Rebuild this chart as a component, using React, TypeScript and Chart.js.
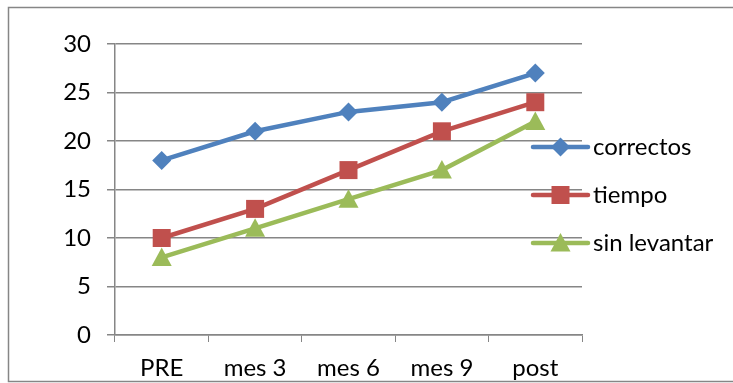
import { useEffect, useRef } from "react";
import { Chart, registerables } from "chart.js";

Chart.register(...registerables);

const categories = ["PRE", "mes 3", "mes 6", "mes 9", "post"];
const correctos = [18, 21, 23, 24, 27];
const tiempo = [10, 13, 17, 21, 24];
const sinLevantar = [8, 11, 14, 17, 22];
const yMin = 0;
const yMax = 30;
const yStep = 5;

const FONT = "Lato, 'Open Sans', sans-serif";
const FONT_SIZE = 24;
const AXIS_GRAY = "#868686";

type Marker = "diamond" | "square" | "triangle";

const seriesStyle: { color: string; marker: Marker; radius: number }[] = [
  { color: "#4F81BD", marker: "diamond", radius: 9.5 },
  { color: "#C0504D", marker: "square", radius: 9 },
  { color: "#9BBB59", marker: "triangle", radius: 10 },
];

function drawMarker(ctx: CanvasRenderingContext2D, kind: Marker, x: number, y: number, r: number, color: string) {
  ctx.save();
  ctx.fillStyle = color;
  ctx.beginPath();
  if (kind === "diamond") {
    ctx.moveTo(x, y - r);
    ctx.lineTo(x + r, y);
    ctx.lineTo(x, y + r);
    ctx.lineTo(x - r, y);
  } else if (kind === "square") {
    ctx.rect(x - r, y - r, 2 * r, 2 * r);
  } else {
    ctx.moveTo(x, y - r);
    ctx.lineTo(x + r, y + r * 0.85);
    ctx.lineTo(x - r, y + r * 0.85);
  }
  ctx.closePath();
  ctx.fill();
  ctx.restore();
}

// Outer frame of the chart object
const framePlugin = {
  id: "frame",
  beforeDraw(chart: Chart) {
    const { ctx, width, height } = chart;
    ctx.save();
    ctx.fillStyle = "#ffffff";
    ctx.fillRect(0, 0, width, height);
    ctx.strokeStyle = AXIS_GRAY;
    ctx.lineWidth = 1.5;
    ctx.strokeRect(8.5, 7.5, width + 10, height - 9);
    ctx.restore();
  },
};

// Custom markers drawn on top of the lines
const markerPlugin = {
  id: "markers",
  afterDatasetsDraw(chart: Chart) {
    const { ctx } = chart;
    chart.data.datasets.forEach((_ds, i) => {
      const meta = chart.getDatasetMeta(i);
      const st = seriesStyle[i];
      meta.data.forEach((pt: any) => {
        drawMarker(ctx, st.marker, pt.x, pt.y, st.radius, st.color);
      });
    });
  },
};

// Legend on the right: line sample with marker, then the label
const sideLegendPlugin = {
  id: "sideLegend",
  afterDraw(chart: Chart) {
    const { ctx, chartArea } = chart;
    const lineStart = chartArea.right - 49;
    const lineEnd = chartArea.right + 6;
    const mid = (lineStart + lineEnd) / 2;
    ctx.save();
    chart.data.datasets.forEach((ds, i) => {
      const st = seriesStyle[i];
      const y = chartArea.top + 103 + i * 48;
      ctx.strokeStyle = st.color;
      ctx.lineWidth = 4.5;
      ctx.lineCap = "round";
      ctx.beginPath();
      ctx.moveTo(lineStart, y);
      ctx.lineTo(lineEnd, y);
      ctx.stroke();
      drawMarker(ctx, st.marker, mid, y, st.radius, st.color);
      ctx.fillStyle = "#000000";
      ctx.font = `${FONT_SIZE}px ${FONT}`;
      ctx.textBaseline = "middle";
      ctx.textAlign = "left";
      ctx.fillText(String(ds.label), lineEnd + 5, y);
    });
    ctx.restore();
  },
};

export default function App() {
  const canvasRef = useRef<HTMLCanvasElement | null>(null);

  useEffect(() => {
    document.body.style.margin = "0";
    const canvas = canvasRef.current;
    if (!canvas) return;
    const chart = new Chart(canvas, {
      type: "line",
      data: {
        labels: categories,
        datasets: [
          { label: "correctos", data: correctos },
          { label: "tiempo", data: tiempo },
          { label: "sin levantar", data: sinLevantar },
        ].map((d, i) => ({
          ...d,
          borderColor: seriesStyle[i].color,
          backgroundColor: seriesStyle[i].color,
          borderWidth: 4.5,
          pointRadius: 0,
          pointHoverRadius: 0,
          tension: 0,
          clip: false as any,
        })),
      },
      options: {
        responsive: false,
        animation: false,
        layout: { padding: { left: 0, top: 44, right: 151, bottom: 0 } },
        plugins: {
          legend: { display: false },
          tooltip: { enabled: false },
        },
        scales: {
          x: {
            offset: true,
            grid: {
              offset: true,
              drawOnChartArea: false,
              drawTicks: true,
              tickLength: 7,
              color: AXIS_GRAY,
            },
            border: { display: true, color: AXIS_GRAY, width: 1.5 },
            ticks: {
              color: "#000000",
              font: { family: FONT, size: FONT_SIZE },
              padding: 12,
              maxRotation: 0,
            },
            afterFit(scale: any) {
              scale.height = 48;
            },
          },
          y: {
            min: yMin,
            max: yMax,
            grid: {
              color: AXIS_GRAY,
              tickLength: 8,
              lineWidth: 1.5,
            },
            border: { display: true, color: AXIS_GRAY, width: 1.5 },
            ticks: {
              stepSize: yStep,
              color: "#000000",
              font: { family: FONT, size: FONT_SIZE },
              padding: 16,
            },
            afterFit(scale: any) {
              scale.width = 115;
            },
          },
        },
      },
      plugins: [framePlugin, markerPlugin, sideLegendPlugin],
    });
    return () => chart.destroy();
  }, []);

  return (
    <div style={{ position: "fixed", left: 0, top: 0, width: 733, height: 383 }}>
      <canvas ref={canvasRef} width={733} height={383} style={{ display: "block" }} />
    </div>
  );
}
